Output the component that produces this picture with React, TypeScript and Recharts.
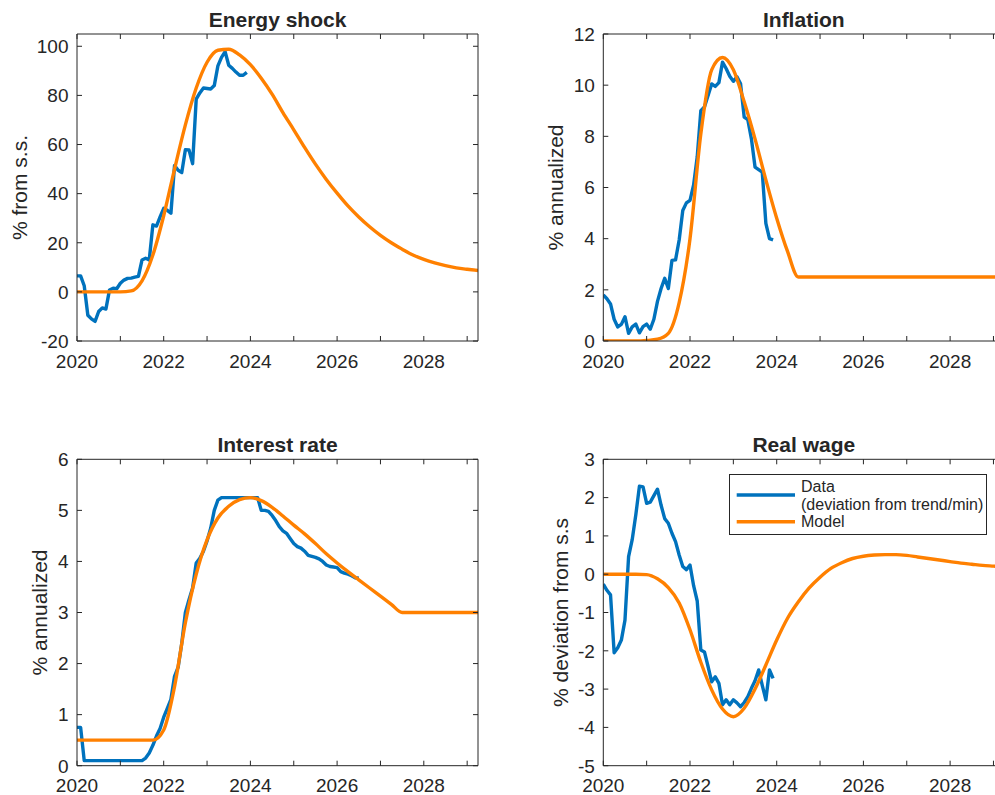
import React from 'react';
import { LineChart, Line, XAxis, YAxis, Legend } from 'recharts';

// ---------- data ----------
const START_YEAR = 2020;
const X_DOMAIN: [number, number] = [2020, 2029.25];
const YEAR_TICKS = [2020, 2021, 2022, 2023, 2024, 2025, 2026, 2027, 2028, 2029];

// monthly observed data, starting Jan 2020
const energyData = [
  6.5, 6.5, 2.5, -9.5, -11, -12, -8, -6.5, -7, 0.8, 1.5, 1.3,
  3.5, 4.8, 5.5, 5.6, 6.0, 6.3, 13, 13.7, 13, 27.3, 26.8, 30.5,
  34, 33.2, 32, 51.5, 49.5, 48.6, 57.9, 57.8, 52.2, 78.5, 81, 83,
  82.8, 82.6, 84, 92, 95.5, 97.8, 92.3, 91, 89.5, 88.2, 88.2, 89.4,
];
const inflationData = [
  1.8, 1.65, 1.45, 0.85, 0.55, 0.65, 0.95, 0.3, 0.55, 0.66, 0.32, 0.56,
  0.66, 0.46, 0.85, 1.55, 2.05, 2.45, 2.05, 3.15, 3.17, 3.95, 5.1, 5.4,
  5.5, 6.1, 7.2, 9.0, 9.15, 9.6, 10.05, 9.95, 10.1, 10.9, 10.65, 10.35,
  10.15, 10.33, 10.05, 8.75, 8.65, 7.9, 6.8, 6.7, 6.6, 4.6, 4.0, 3.95,
];
const interestData = [
  0.75, 0.75, 0.1, 0.1, 0.1, 0.1, 0.1, 0.1, 0.1, 0.1, 0.1, 0.1,
  0.1, 0.1, 0.1, 0.1, 0.1, 0.1, 0.1, 0.15, 0.25, 0.4, 0.58, 0.73,
  0.95, 1.12, 1.3, 1.75, 1.93, 2.4, 3.0, 3.25, 3.48, 3.97, 4.06, 4.2,
  4.4, 4.65, 5.0, 5.2, 5.25, 5.25, 5.25, 5.25, 5.25, 5.25, 5.25, 5.25,
  5.25, 5.25, 5.25, 5.0, 5.0, 4.98, 4.9, 4.8, 4.68, 4.6, 4.55, 4.45,
  4.35, 4.29, 4.26, 4.2, 4.12, 4.1, 4.08, 4.05, 4.0, 3.93, 3.9, 3.89,
  3.88, 3.8, 3.77, 3.75, 3.72, 3.68, 3.67,
];
const wageData = [
  -0.26, -0.42, -0.54, -2.05, -1.92, -1.72, -1.2, 0.46, 0.9, 1.55, 2.3, 2.28,
  1.85, 1.88, 2.05, 2.22, 1.8, 1.45, 1.33, 1.07, 0.85, 0.5, 0.2, 0.12,
  0.24, -0.3, -0.7, -1.98, -2.03, -2.41, -2.81, -2.68, -2.85, -3.41, -3.28, -3.41,
  -3.28, -3.36, -3.46, -3.35, -3.2, -2.98, -2.78, -2.5, -2.9, -3.28, -2.5, -2.72,
];

// quarterly model paths, starting 2020Q1
const energyModel = [
  0, 0, 0, 0, 0.02, 0.4, 4.5, 15, 31, 50, 68, 83, 93.5, 98.4, 98.8, 96.5,
  92.5, 87, 80.5, 73, 66, 58.8, 52, 45.8, 40.2, 35, 30.5, 26.5, 23, 20, 17.4, 15.0,
  13.2, 11.8, 10.7, 9.8, 9.2, 8.7,
];
const inflationModel = [
  0, 0, 0, 0, 0.02, 0.07, 0.3, 1.5, 4.0, 8.1, 10.6, 11.08, 10.6, 9.35, 7.9, 6.3,
  4.8, 3.5, 2.5, 2.5, 2.5, 2.5, 2.5, 2.5, 2.5, 2.5, 2.5, 2.5, 2.5, 2.5, 2.5, 2.5,
  2.5, 2.5, 2.5, 2.5, 2.5, 2.5,
];
const interestModel = [
  0.5, 0.5, 0.5, 0.5, 0.5, 0.5, 0.5, 0.5, 0.7, 1.55, 2.8, 3.75, 4.42, 4.85, 5.08, 5.21,
  5.25, 5.19, 5.06, 4.89, 4.71, 4.54, 4.35, 4.15, 3.97, 3.8, 3.64, 3.48, 3.32, 3.16, 3.0, 3.0,
  3.0, 3.0, 3.0, 3.0, 3.0, 3.0,
];
const wageModel = [
  0, 0, 0, 0, -0.01, -0.12, -0.35, -0.75, -1.45, -2.3, -3.02, -3.52, -3.72, -3.5, -3.0, -2.37,
  -1.72, -1.15, -0.72, -0.36, -0.08, 0.15, 0.3, 0.41, 0.47, 0.5, 0.51, 0.51, 0.49, 0.45, 0.41, 0.37,
  0.33, 0.29, 0.26, 0.23, 0.21, 0.19,
];

const energyTicks = [-20, 0, 20, 40, 60, 80, 100];
const inflationTicks = [0, 2, 4, 6, 8, 10, 12];
const interestTicks = [0, 1, 2, 3, 4, 5, 6];
const wageTicks = [-5, -4, -3, -2, -1, 0, 1, 2, 3];

const DATA_NAME = 'Data\n(deviation from trend/min)';
const MODEL_NAME = 'Model';

type Pt = { t: number; v: number };
const monthly = (vals: number[]): Pt[] => vals.map((v, i) => ({ t: START_YEAR + i / 12, v }));
const quarterly = (vals: number[]): Pt[] => vals.map((v, i) => ({ t: START_YEAR + i / 4, v }));

// ---------- style ----------
const AX = '#262626';
const BLUE = '#0072BD';
const ORANGE = '#FF8000';
const FONT = '"Liberation Sans", Arial, Helvetica, sans-serif';
const LINE_W = 3.4;
const TICK_LEN = 5;
const BOTTOM_H = 30;
const TOP_H = 5;
const LEFT_W = 60;
const RIGHT_W = 5;

const BottomTick = (p: any) => {
  const { x, y, payload } = p;
  const show = payload.value % 2 === 0;
  return (
    <g>
      <line x1={x} x2={x} y1={y} y2={y - TICK_LEN} stroke={AX} strokeWidth={1} />
      {show && (
        <text x={x} y={y + 26.5} textAnchor="middle" fontSize={19} fill={AX} fontFamily={FONT}>
          {payload.value}
        </text>
      )}
    </g>
  );
};
const TopTick = (p: any) => (
  <line x1={p.x} x2={p.x} y1={p.y} y2={p.y + TICK_LEN} stroke={AX} strokeWidth={1} />
);
const LeftTick = (p: any) => {
  const { x, y, payload } = p;
  return (
    <g>
      <line x1={x} x2={x + TICK_LEN} y1={y} y2={y} stroke={AX} strokeWidth={1} />
      <text x={x - 8.5} y={y + 6.8} textAnchor="end" fontSize={19} fill={AX} fontFamily={FONT}>
        {String(payload.value)}
      </text>
    </g>
  );
};
const RightTick = (p: any) => (
  <line x1={p.x} x2={p.x - TICK_LEN} y1={p.y} y2={p.y} stroke={AX} strokeWidth={1} />
);

const WageLegend = (props: any) => {
  const payload = props.payload || [];
  const lineY = [21, 47.7];
  const textY = [[18.3, 36], [52.7]];
  return (
    <svg width={258} height={61} style={{ display: 'block' }}>
      <rect x={0.5} y={0.5} width={257} height={60} fill="#fff" stroke={AX} strokeWidth={1} />
      {payload.map((item: any, i: number) => {
        const lines = String(item.value).split('\n');
        return (
          <g key={i}>
            <line x1={7.7} x2={66} y1={lineY[i]} y2={lineY[i]} stroke={item.color} strokeWidth={LINE_W} />
            {lines.map((s, j) => (
              <text key={j} x={72} y={(textY[i] || [])[j]} fontSize={16} fill={AX} fontFamily={FONT}>
                {s}
              </text>
            ))}
          </g>
        );
      })}
    </svg>
  );
};

interface PanelProps {
  title: string;
  yLabel: string;
  yLabelOffset: number;
  yDomain: [number, number];
  yTicks: number[];
  data: Pt[];
  model: Pt[];
  left: number;
  top: number;
  width: number;
  height: number;
  plot: { top: number; right: number; bottom: number; left: number };
  legend?: boolean;
}

function Panel(props: PanelProps) {
  const { title, yLabel, yLabelOffset, yDomain, yTicks, data, model, left, top, width, height, plot, legend } = props;
  const margin = {
    top: plot.top - TOP_H,
    bottom: plot.bottom - BOTTOM_H,
    left: plot.left - LEFT_W,
    right: plot.right - RIGHT_W,
  };
  const plotW = width - plot.left - plot.right;
  const plotH = height - plot.top - plot.bottom;
  const titleFn = (lp: any) => {
    const vb = lp.viewBox || {};
    const cx = (vb.x ?? plot.left) + (vb.width ?? plotW) / 2;
    const baseY = vb.y != null ? vb.y + (vb.height ?? TOP_H) : plot.top;
    return (
      <text x={cx} y={baseY - 7} textAnchor="middle" fontSize={21} fontWeight="bold" fill={AX} fontFamily={FONT}>
        {title}
      </text>
    );
  };
  const yLabelFn = (lp: any) => {
    const vb = lp.viewBox || {};
    const axisX = vb.x != null ? vb.x + (vb.width ?? LEFT_W) : plot.left;
    const x = axisX - yLabelOffset;
    const cy = (vb.y ?? plot.top) + (vb.height ?? plotH) / 2;
    return (
      <text x={x} y={cy} textAnchor="middle" fontSize={21} fill={AX} fontFamily={FONT} transform={`rotate(-90, ${x}, ${cy})`}>
        {yLabel}
      </text>
    );
  };
  return (
    <div style={{ position: 'absolute', left, top, width, height }}>
      <LineChart width={width} height={height} margin={margin}>
        <XAxis
          xAxisId="b" type="number" dataKey="t" scale="linear" domain={X_DOMAIN} ticks={YEAR_TICKS}
          interval={0} allowDataOverflow height={BOTTOM_H} tickSize={0} tickMargin={0} tickLine={false}
          axisLine={{ stroke: AX, strokeWidth: 1 }} tick={BottomTick}
        />
        <XAxis
          xAxisId="t" orientation="top" type="number" dataKey="t" scale="linear" domain={X_DOMAIN} ticks={YEAR_TICKS}
          interval={0} allowDataOverflow height={TOP_H} tickSize={0} tickMargin={0} tickLine={false}
          axisLine={{ stroke: AX, strokeWidth: 1 }} tick={TopTick} label={titleFn}
        />
        <YAxis
          yAxisId="l" type="number" domain={yDomain} ticks={yTicks} interval={0} allowDataOverflow
          width={LEFT_W} tickSize={0} tickMargin={0} tickLine={false}
          axisLine={{ stroke: AX, strokeWidth: 1 }} tick={LeftTick} label={yLabelFn}
        />
        <YAxis
          yAxisId="r" orientation="right" type="number" domain={yDomain} ticks={yTicks} interval={0} allowDataOverflow
          width={RIGHT_W} tickSize={0} tickMargin={0} tickLine={false}
          axisLine={{ stroke: AX, strokeWidth: 1 }} tick={RightTick}
        />
        <Line
          xAxisId="b" yAxisId="l" data={data} dataKey="v" name={DATA_NAME} type="linear"
          stroke={BLUE} strokeWidth={LINE_W} strokeLinejoin="round" dot={false} activeDot={false} isAnimationActive={false}
        />
        <Line
          xAxisId="t" yAxisId="r" data={model} dataKey="v" name={MODEL_NAME} type="monotone"
          stroke={ORANGE} strokeWidth={LINE_W} strokeLinejoin="round" dot={false} activeDot={false} isAnimationActive={false}
        />
        {legend && (
          <Legend
            layout="vertical" align="center" verticalAlign="middle" content={WageLegend}
            wrapperStyle={{ position: 'absolute', left: 229, top: 74, width: 258, height: 61, margin: 0, padding: 0 }}
          />
        )}
      </LineChart>
    </div>
  );
}

export default function App() {
  const pTop = { top: 34, bottom: 59 };
  const pBot = { top: 59.3, bottom: 29.3 };
  const pLeft = { left: 77, right: 22 };
  const pRight = { left: 103.3, right: 15.7 };
  return (
    <div style={{ position: 'absolute', left: 0, top: 0, width: 995, height: 795, overflow: 'hidden', background: '#fff', fontFamily: FONT }}>
      <Panel
        title="Energy shock" yLabel="% from s.s." yLabelOffset={50.3} yDomain={[-20, 105]} yTicks={energyTicks}
        data={monthly(energyData)} model={quarterly(energyModel)}
        left={0} top={0} width={500} height={400} plot={{ ...pTop, ...pLeft }}
      />
      <Panel
        title="Inflation" yLabel="% annualized" yLabelOffset={40} yDomain={[0, 12]} yTicks={inflationTicks}
        data={monthly(inflationData)} model={quarterly(inflationModel)}
        left={500} top={0} width={520} height={400} plot={{ ...pTop, ...pRight }}
      />
      <Panel
        title="Interest rate" yLabel="% annualized" yLabelOffset={30.3} yDomain={[0, 6]} yTicks={interestTicks}
        data={monthly(interestData)} model={quarterly(interestModel)}
        left={0} top={400} width={500} height={395} plot={{ ...pBot, ...pLeft }}
      />
      <Panel
        title="Real wage" yLabel="% deviation from s.s" yLabelOffset={35} yDomain={[-5, 3]} yTicks={wageTicks}
        data={monthly(wageData)} model={quarterly(wageModel)}
        left={500} top={400} width={520} height={395} plot={{ ...pBot, ...pRight }} legend
      />
    </div>
  );
}
